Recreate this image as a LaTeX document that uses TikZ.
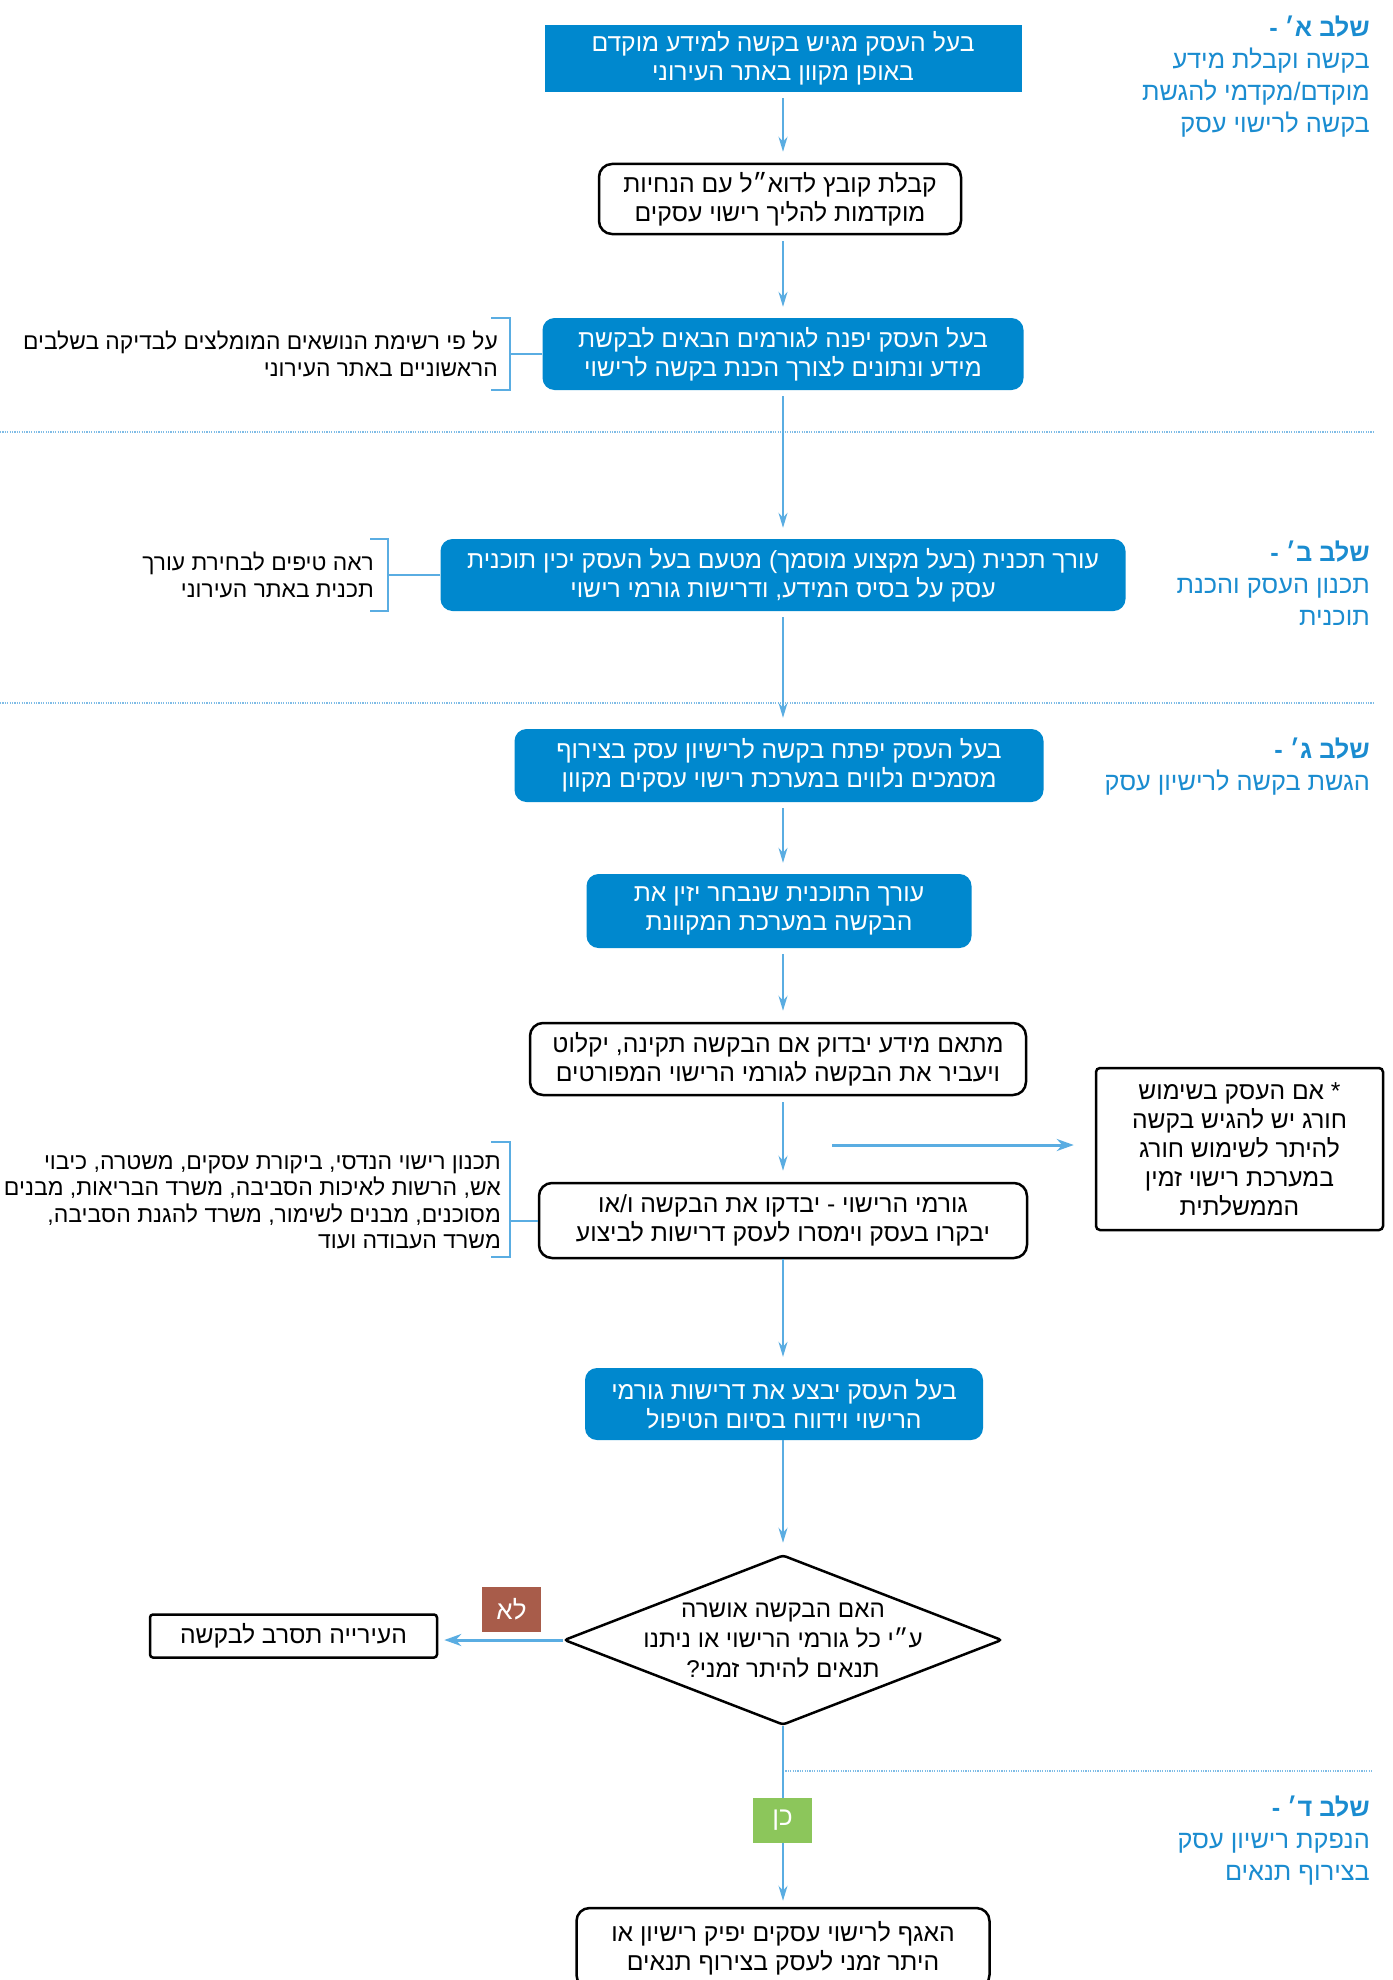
\documentclass[tikz,border=0pt]{standalone}
\usepackage{fontspec}
\usetikzlibrary{shapes.geometric,arrows.meta,calc}
\newfontfamily\hebfont[Script=Hebrew]{Liberation Sans}
\TeXXeTstate=1
\newcommand\hb[1]{\beginR #1\endR}
\definecolor{boxblue}{HTML}{0088CE}
\definecolor{lineblue}{HTML}{5AADE2}
\definecolor{dotblue}{HTML}{7FBCE6}
\definecolor{stageblue}{HTML}{1A8CD0}
\definecolor{nored}{HTML}{A85C4A}
\definecolor{yesgreen}{HTML}{8CC65B}
\begin{document}
\begin{tikzpicture}[x=1pt,y=-1pt,
 txt/.style={font=\hebfont\fontsize{24.7}{29}\selectfont, align=center, inner sep=0pt},
 bluebox/.style={txt, fill=boxblue, text=white, rounded corners=12pt},
 whitebox/.style={txt, draw=black, line width=2.5pt, rounded corners=13pt, fill=white},
 flow/.style={draw=lineblue, line width=1.6pt, -{Stealth[length=15pt,width=9pt]}, shorten <=6pt, shorten >=11pt},
 sideflow/.style={draw=lineblue, line width=3pt, -{Stealth[length=17pt,width=12pt]}},
 sep/.style={draw=dotblue, line width=1.2pt, dash pattern=on 1.2pt off 1.2pt},
 brk/.style={draw=lineblue, line width=2pt},
 note/.style={font=\hebfont\fontsize{22.8}{26.5}\selectfont, align=right, inner sep=0pt, anchor=east},
 stage/.style={font=\hebfont\fontsize{25.3}{32}\selectfont, text=stageblue, align=right, inner sep=0pt, anchor=east},
 tag/.style={font=\hebfont\fontsize{26}{29}\selectfont, text=white, inner sep=0pt, minimum width=59pt, minimum height=45pt},
]
\useasboundingbox[fill=white] (0,0) rectangle (1392,1980);

% separators
\draw[sep] (0,432) -- (1373,432);
\draw[sep] (0,703) -- (1373,703);
\draw[sep] (783,1771) -- (1373,1771);

% stage texts
\node[stage] (stA) at (1370,77) {{\bfseries\hb{שלב א׳ -}}\\\hb{בקשה וקבלת מידע}\\\hb{מוקדם/מקדמי להגשת}\\\hb{בקשה לרישוי עסק}};
\node[stage] (stB) at (1370,583) {{\bfseries\hb{שלב ב׳ -}}\\\hb{תכנון העסק והכנת}\\\hb{תוכנית}};
\node[stage] (stC) at (1370,766.5) {{\bfseries\hb{שלב ג׳ -}}\\\hb{הגשת בקשה לרישיון עסק}};
\node[stage] (stD) at (1370,1841) {{\bfseries\hb{שלב ד׳ -}}\\\hb{הנפקת רישיון עסק}\\\hb{בצירוף תנאים}};

% boxes
\node[bluebox, rounded corners=0pt, minimum width=477pt, minimum height=67pt] (b1) at (783,58.5)
  {\hb{בעל העסק מגיש בקשה למידע מוקדם}\\\hb{באופן מקוון באתר העירוני}};
\node[whitebox, minimum width=362pt, minimum height=70pt] (b2) at (780,199)
  {\hb{קבלת קובץ לדוא״ל עם הנחיות}\\\hb{מוקדמות להליך רישוי עסקים}};
\node[bluebox, minimum width=481pt, minimum height=72pt] (b3) at (783,354)
  {\hb{בעל העסק יפנה לגורמים הבאים לבקשת}\\\hb{מידע ונתונים לצורך הכנת בקשה לרישוי}};
\node[bluebox, minimum width=685pt, minimum height=72pt] (b4) at (783,575)
  {\hb{עורך תכנית (בעל מקצוע מוסמך) מטעם בעל העסק יכין תוכנית}\\\hb{עסק על בסיס המידע, ודרישות גורמי רישוי}};
\node[bluebox, minimum width=529pt, minimum height=73pt] (b5) at (779,765.5)
  {\hb{בעל העסק יפתח בקשה לרישיון עסק בצירוף}\\\hb{מסמכים נלווים במערכת רישוי עסקים מקוון}};
\node[bluebox, minimum width=385pt, minimum height=74pt] (b6) at (779,911)
  {\hb{עורך התוכנית שנבחר יזין את}\\\hb{הבקשה במערכת המקוונת}};
\node[whitebox, minimum width=496pt, minimum height=72pt] (b7) at (778,1059)
  {\hb{מתאם מידע יבדוק אם הבקשה תקינה, יקלוט}\\\hb{ויעביר את הבקשה לגורמי הרישוי המפורטים}};
\node[whitebox, minimum width=488pt, minimum height=75pt] (b8) at (783,1220.5)
  {\hb{גורמי הרישוי - יבדקו את הבקשה ו/או}\\\hb{יבקרו בעסק וימסרו לעסק דרישות לביצוע}};
\node[whitebox, rounded corners=4pt, minimum width=287pt, minimum height=162pt, font=\hebfont\fontsize{24.6}{29}\selectfont] (b9) at (1239.5,1149)
  {\hb{* אם העסק בשימוש}\\\hb{חורג יש להגיש בקשה}\\\hb{להיתר לשימוש חורג}\\\hb{במערכת רישוי זמין}\\\hb{הממשלתית}};
\node[bluebox, minimum width=398pt, minimum height=72pt] (b10) at (784,1404)
  {\hb{בעל העסק יבצע את דרישות גורמי}\\\hb{הרישוי וידווח בסיום הטיפול}};
\node[diamond, draw=black, line width=2.5pt, rounded corners=3pt, inner sep=0pt, minimum width=438pt, minimum height=170pt] (dia) at (783,1640) {};
\node[txt, font=\hebfont\fontsize{24.2}{30}\selectfont] (diatext) at (dia.center)
  {\hb{האם הבקשה אושרה}\\\hb{ע״י כל גורמי הרישוי או ניתנו}\\\hb{תנאים להיתר זמני?}};
\node[whitebox, rounded corners=3pt, minimum width=287pt, minimum height=43pt] (b11) at (293.5,1636)
  {\hb{העירייה תסרב לבקשה}};
\node[whitebox, minimum width=413pt, minimum height=80pt] (b12) at (783,1948)
  {\hb{האגף לרישוי עסקים יפיק רישיון או}\\\hb{היתר זמני לעסק בצירוף תנאים}};

% notes with brackets
\node[note] (n3) at (498,354) {\hb{על פי רשימת הנושאים המומלצים לבדיקה בשלבים}\\\hb{הראשוניים באתר העירוני}};
\node[note] (n4) at (374,575) {\hb{ראה טיפים לבחירת עורך}\\\hb{תכנית באתר העירוני}};
\node[note, font=\hebfont\fontsize{23}{26.5}\selectfont] (n8) at (501,1202)
  {\hb{תכנון רישוי הנדסי, ביקורת עסקים, משטרה, כיבוי}\\\hb{אש, הרשות לאיכות הסביבה, משרד הבריאות, מבנים}\\\hb{מסוכנים, מבנים לשימור, משרד להגנת הסביבה,}\\\hb{משרד העבודה ועוד}};

\draw[brk] (491,318) -- (510,318) -- (510,390) -- (491,390);
\draw[brk] (b3.west) -- (b3.west -| 510,0);
\draw[brk] (370,539) -- (388,539) -- (388,611) -- (370,611);
\draw[brk] (b4.west) -- (b4.west -| 388,0);
\draw[brk] (491,1142) -- (510,1142) -- (510,1257) -- (491,1257);
\draw[brk] (b8.west) -- (b8.west -| 510,0);

% flow arrows
\draw[flow] (b1.south -| 783,0) -- (b2.north -| 783,0);
\draw[flow] (b2.south -| 783,0) -- (b3.north -| 783,0);
\draw[flow] (b3.south -| 783,0) -- (b4.north -| 783,0);
\draw[flow] (b4.south -| 783,0) -- (b5.north -| 783,0);
\draw[flow] (b5.south -| 783,0) -- (b6.north -| 783,0);
\draw[flow] (b6.south -| 783,0) -- (b7.north -| 783,0);
\draw[flow] (b7.south -| 783,0) -- (b8.north -| 783,0);
\draw[flow, shorten <=0pt] (b8.south -| 783,0) -- (b10.north -| 783,0);
\draw[flow, shorten <=0pt] (b10.south -| 783,0) -- (dia.north);
\draw[flow, shorten <=0pt, shorten >=6pt] (dia.south) -- (b12.north);

\coordinate (sidestart) at (832,1145);
\draw[sideflow, shorten >=21pt] (sidestart) -- (sidestart -| b9.west);
\draw[sideflow, shorten >=6pt] (dia.west) -- (dia.west -| b11.east);

% tags
\node[tag, fill=nored] (no) at (511.5,1609.5) {\hb{לא}};
\node[tag, fill=yesgreen] (yes) at (782.5,1820.5) {\hb{כן}};
\end{tikzpicture}
\end{document}
